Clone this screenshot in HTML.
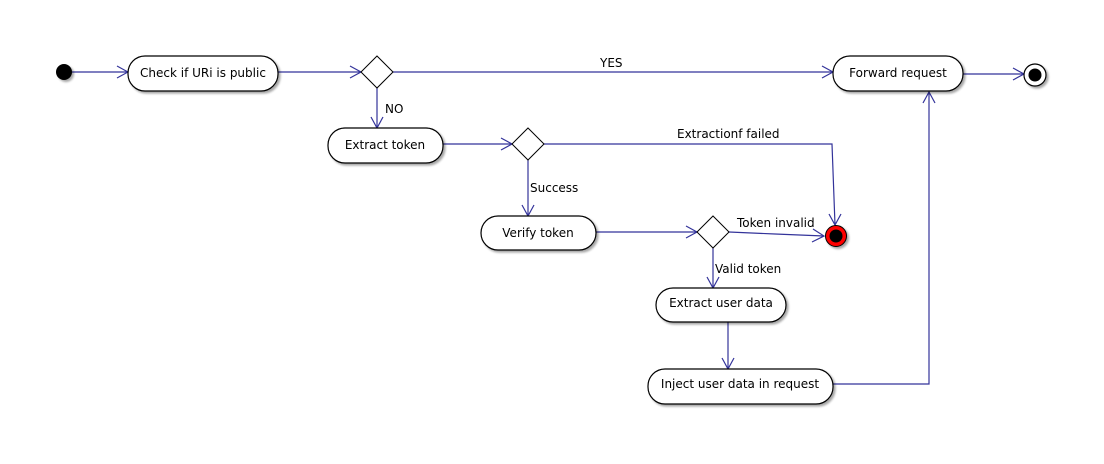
<!DOCTYPE html>
<html><head><meta charset="utf-8"><style>
html,body{margin:0;padding:0;background:#fff;}
svg{display:block;}
text{font-family:"DejaVu Sans","Liberation Sans",sans-serif;font-size:12px;fill:#000;}
</style></head><body>
<svg width="1104" height="464" viewBox="0 0 1104 464" xmlns="http://www.w3.org/2000/svg">
<defs>
<filter id="sh" x="-10%" y="-20%" width="130%" height="150%"><feDropShadow dx="2" dy="2" stdDeviation="1" flood-color="#000" flood-opacity="0.35"/></filter>
</defs>
<g fill="none" stroke="#33339a" stroke-width="1.2">
<!-- start -> check -->
<path d="M72 72 H128"/><path d="M117 66 L128 72 L117 78"/>
<!-- check -> diamond1 -->
<path d="M278 72 H361"/><path d="M350 66 L361 72 L350 78"/>
<!-- YES -->
<path d="M393 72 H833"/><path d="M822 66 L833 72 L822 78"/>
<!-- forward -> end -->
<path d="M963 74 H1024"/><path d="M1013 68 L1024 74 L1013 80"/>
<!-- NO -->
<path d="M377 88 V128"/><path d="M371 117 L377 128 L383 117"/>
<!-- extract -> diamond2 -->
<path d="M443 144 H512"/><path d="M501 138 L512 144 L501 150"/>
<!-- extraction failed -->
<path d="M544 144 H832 L835 225"/><path d="M829 214 L835 225 L841 214"/>
<!-- success -->
<path d="M528 160 V216"/><path d="M522 205 L528 216 L534 205"/>
<!-- verify -> diamond3 -->
<path d="M596 232 H697"/><path d="M686 226 L697 232 L686 238"/>
<!-- token invalid -->
<path d="M729 232 L775 234 L824 236"/><path d="M813 229 L824 236 L812 242"/>
<!-- valid token -->
<path d="M713 248 V288"/><path d="M707 277 L713 288 L719 277"/>
<!-- extract user -> inject -->
<path d="M728 322 V369"/><path d="M722 358 L728 369 L734 358"/>
<!-- inject -> forward -->
<path d="M833 384 H929 V92"/><path d="M923 103 L929 92 L935 103"/>
</g>
<!-- start -->
<circle cx="64" cy="72" r="8" fill="#000" filter="url(#sh)"/>
<!-- end -->
<circle cx="1035" cy="75" r="11" fill="#fff" stroke="#000" stroke-width="1.2" filter="url(#sh)"/>
<circle cx="1035" cy="75" r="6.5" fill="#000"/>
<!-- red end -->
<circle cx="836" cy="236" r="10.5" fill="#ff0000" stroke="#000" stroke-width="1" filter="url(#sh)"/>
<circle cx="836" cy="236" r="6.5" fill="#000"/>
<!-- boxes -->
<g fill="#fff" stroke="#000" stroke-width="1.2" filter="url(#sh)">
<rect x="128" y="56" width="150" height="35" rx="17"/>
<rect x="833" y="56" width="130" height="35" rx="17"/>
<rect x="328" y="128" width="115" height="35" rx="17"/>
<rect x="481" y="216" width="115" height="34" rx="17"/>
<rect x="656" y="288" width="130" height="34" rx="17"/>
<rect x="648" y="369" width="185" height="35" rx="17"/>
</g>
<g fill="#fff" stroke="#000" stroke-width="1">
<path d="M377 56 L393 72 L377 88 L361 72 Z"/>
<path d="M528 128 L544 144 L528 160 L512 144 Z"/>
<path d="M713 216 L729 232 L713 248 L697 232 Z"/>
</g>
<text x="203" y="77" text-anchor="middle">Check if URi is public</text>
<text x="898" y="77" text-anchor="middle">Forward request</text>
<text x="385" y="149" text-anchor="middle">Extract token</text>
<text x="538" y="237" text-anchor="middle">Verify token</text>
<text x="721" y="307" text-anchor="middle">Extract user data</text>
<text x="740" y="388" text-anchor="middle">Inject user data in request</text>
<text x="600" y="67">YES</text>
<text x="385" y="113">NO</text>
<text x="677" y="138">Extractionf failed</text>
<text x="530" y="192">Success</text>
<text x="737" y="227">Token invalid</text>
<text x="715" y="273">Valid token</text>
</svg>
</body></html>
